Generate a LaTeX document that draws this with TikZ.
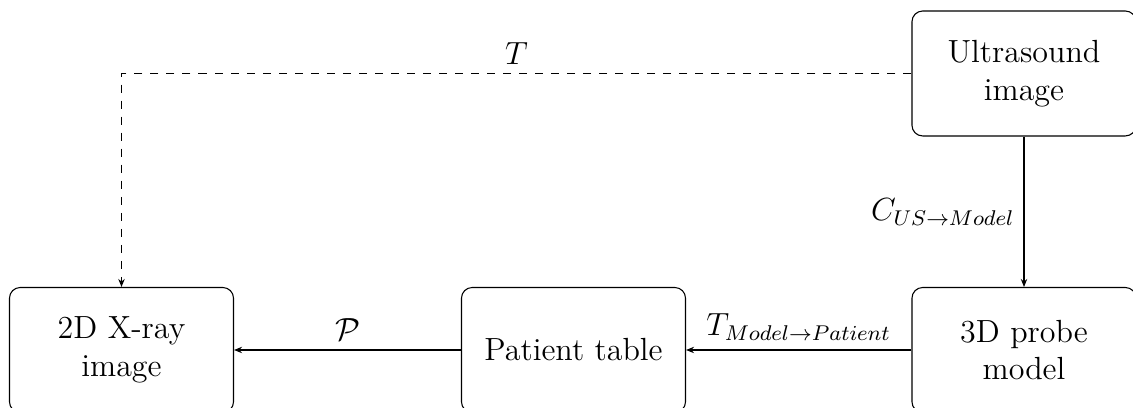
\documentclass[tikz,border=0pt]{standalone}
\usetikzlibrary{arrows.meta}
\begin{document}
\begin{tikzpicture}[x=0.3745pt,y=-0.3745pt,
  box/.style={draw,rounded corners=4pt,minimum width=83.9pt,minimum height=46.8pt,align=center,font=\large,inner sep=2pt},
  lbl/.style={font=\large},
  conn/.style={-{Stealth[length=3pt,width=2.4pt]}}]
\useasboundingbox (0,0) rectangle (1133,408);
\node[box] (us) at (1024,73.5) {Ultrasound\\image};
\node[box] (probe) at (1024,350) {3D probe\\model};
\node[box] (table) at (573.5,350) {Patient table};
\node[box] (xray) at (121.5,350) {2D X-ray\\image};
\coordinate (corner) at (xray.north |- us.west);
\draw[conn,dashed] (us.west) -- node[lbl,above]{$T$} (corner) -- (xray.north);
\draw[conn] (us.south) -- node[lbl,left]{$C_{US\rightarrow Model}$} (probe.north);
\draw[conn] (probe.west) -- node[lbl,above]{$T_{Model\rightarrow Patient}$} (table.east);
\draw[conn] (table.west) -- node[lbl,above]{$\mathcal{P}$} (xray.east);
\end{tikzpicture}
\end{document}
